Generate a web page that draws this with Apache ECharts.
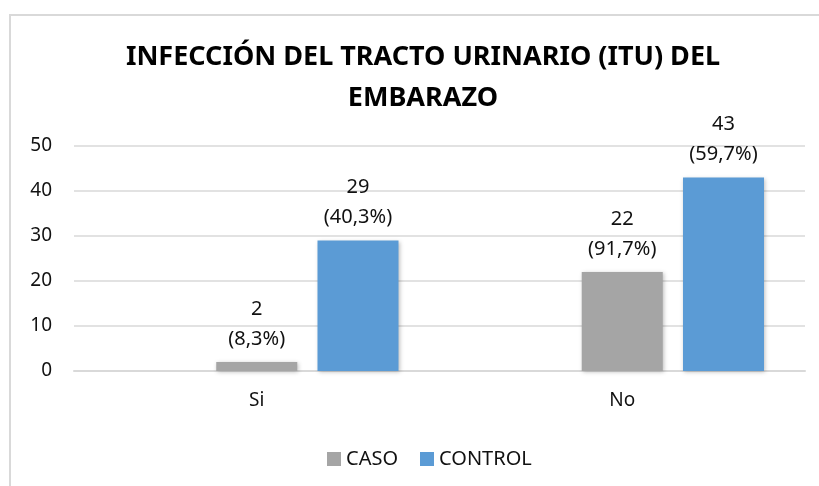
<!DOCTYPE html>
<html>
<head>
<meta charset="utf-8">
<script src="https://cdn.jsdelivr.net/npm/echarts@6/dist/echarts.min.js"></script>
<style>
html,body{margin:0;padding:0;background:#fff;}
#chart{width:819px;height:486px;}
</style>
</head>
<body>
<div id="chart"></div>
<script>
const categories = ['Si', 'No'];
const casoValues = [2, 22];
const controlValues = [29, 43];
const casoPct = ['8,3%', '91,7%'];
const controlPct = ['40,3%', '59,7%'];
const yTicks = { min: 0, max: 50, interval: 10 };
const titleText = 'INFECCIÓN DEL TRACTO URINARIO (ITU) DEL\nEMBARAZO';

const FONT = "'Noto Sans', 'Open Sans', sans-serif";
const chart = echarts.init(document.getElementById('chart'));

function labelFor(pcts) {
  return {
    show: true,
    position: 'top',
    distance: 8,
    fontFamily: FONT,
    fontSize: 20,
    lineHeight: 30,
    color: '#111',
    formatter: p => p.value + '\n(' + pcts[p.dataIndex] + ')'
  };
}
const shadow = { shadowBlur: 4, shadowColor: 'rgba(0,0,0,0.25)', shadowOffsetX: 1, shadowOffsetY: 1 };

chart.setOption({
  animation: false,
  backgroundColor: '#fff',
  graphic: [{
    type: 'rect',
    shape: { x: 10, y: 15, width: 900, height: 600 },
    style: { fill: 'none', stroke: '#d9d9d9', lineWidth: 2 },
    silent: true
  }, {
    type: 'text',
    x: 423,
    y: 37,
    silent: true,
    style: {
      text: titleText,
      align: 'center',
      verticalAlign: 'top',
      fontFamily: FONT,
      fontSize: 27,
      fontWeight: 'bold',
      lineHeight: 41,
      fill: '#000'
    }
  }],
  legend: {
    data: ['CASO', 'CONTROL'],
    left: 322,
    top: 444,
    itemWidth: 14,
    itemHeight: 14,
    itemGap: 22,
    icon: 'rect',
    textStyle: { fontFamily: FONT, fontSize: 20, color: '#111' }
  },
  grid: { left: 74, right: 14, top: 146, bottom: 115, containLabel: false },
  xAxis: {
    type: 'category',
    data: categories,
    axisLine: { lineStyle: { color: '#d9d9d9', width: 2 } },
    axisTick: { show: false },
    axisLabel: { fontFamily: FONT, fontSize: 19, color: '#111', margin: 20 }
  },
  yAxis: {
    type: 'value',
    min: yTicks.min,
    max: yTicks.max,
    interval: yTicks.interval,
    axisLine: { show: false },
    axisTick: { show: false },
    splitLine: { lineStyle: { color: '#d9d9d9', width: 1.5 } },
    axisLabel: { fontFamily: FONT, fontSize: 19, color: '#111', margin: 22 }
  },
  series: [
    { name: '', type: 'bar', data: [null, null], barWidth: 81, barGap: '25%' },
    { name: 'CASO', type: 'bar', data: casoValues, barWidth: 81, barGap: '25%',
      itemStyle: Object.assign({ color: '#A5A5A5' }, shadow), label: labelFor(casoPct) },
    { name: 'CONTROL', type: 'bar', data: controlValues, barWidth: 81, barGap: '25%',
      itemStyle: Object.assign({ color: '#5B9BD5' }, shadow), label: labelFor(controlPct) }
  ]
});
</script>
</body>
</html>
